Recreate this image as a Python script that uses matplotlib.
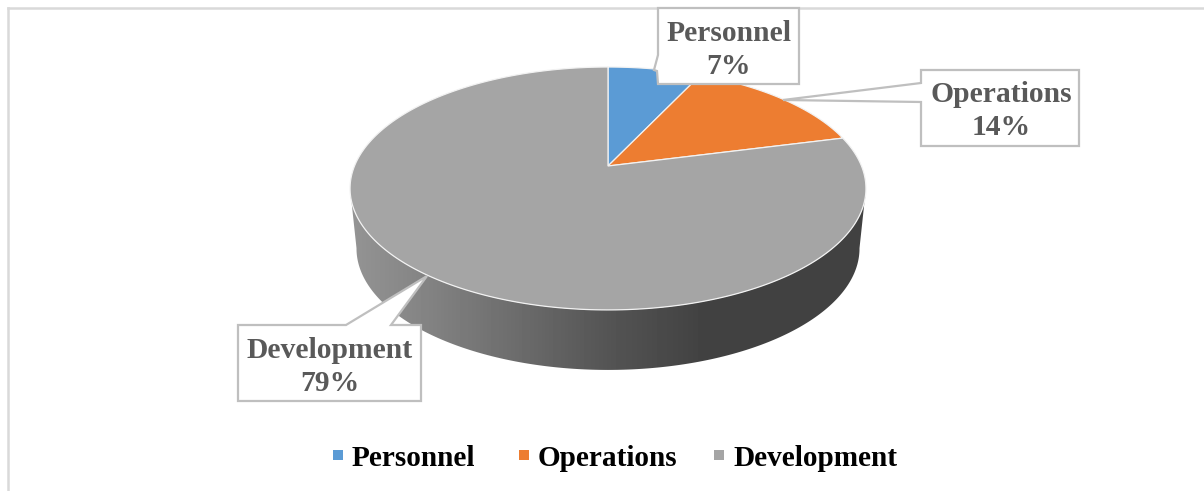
"""3D-look pie chart of budget shares, drawn in pixel coordinates."""

import numpy as np
import matplotlib
matplotlib.use("Agg")
import matplotlib.pyplot as plt
from matplotlib.patches import Polygon, Rectangle

plt.rcParams["font.family"] = ["Liberation Serif", "DejaVu Serif"]

categories = ["Personnel", "Operations", "Development"]
shares = [7, 14, 79]
colors = ["#5B9BD5", "#ED7D31", "#A5A5A5"]

# ── Geometry of the tilted disc (perspective) ─────────────────────────────────
CX, CY = 608, 166
A, B, K = 253.5, 117.3, 0.185
DEPTH = 60


def rim(theta, scale=1.0, dy=0.0):
    # theta in radians, clockwise from 12 o'clock
    x, y = np.sin(theta), np.cos(theta)
    w = 1 + K * y
    return np.column_stack([CX + scale * A * x / w, CY + dy - B * y / w])


fig = plt.figure(figsize=(12.04, 4.91), dpi=100)
ax = fig.add_axes([0, 0, 1, 1])
ax.axis("off")

# chart frame: only left and top edges are visible
ax.plot([7.5, 7.5], [491, 8], color="#D9D9D9", lw=1.8, zorder=1)
ax.plot([7.5, 1204], [8, 8], color="#D9D9D9", lw=1.8, zorder=1)

# ── Side wall with horizontal gradient ────────────────────────────────────────
t = np.linspace(0, 2 * np.pi, 721)
top = rim(t)
low = rim(t, scale=0.975, dy=DEPTH)
right_i, left_i = np.argmax(top[:, 0]), np.argmin(top[:, 0])
low_r, low_l = np.argmax(low[:, 0]), np.argmin(low[:, 0])
wall_patch = Polygon(
    np.vstack([low[low_r:low_l + 1], top[right_i:left_i + 1][::-1]]),
    closed=True, fc="none", ec="none",
)
ax.add_patch(wall_patch)
stops_x = np.array([350, 420, 520, 608, 700, 866])
stops_v = np.array([0.58, 0.52, 0.42, 0.33, 0.26, 0.26])
grad = np.interp(np.arange(350, 867), stops_x, stops_v)[None, :]
im = ax.imshow(grad, cmap="gray", vmin=0, vmax=1, extent=[350, 867, 380, 180],
               aspect="auto", zorder=2)
im.set_clip_path(wall_patch)
ax.set_xlim(0, 1204)
ax.set_ylim(491, 0)

# ── Top face ──────────────────────────────────────────────────────────────────
edges = np.cumsum([0] + shares) / sum(shares) * 2 * np.pi
for start, stop, color in zip(edges[:-1], edges[1:], colors):
    arc = rim(np.linspace(start, stop, 300))
    ax.add_patch(Polygon(np.vstack([[CX, CY], arc]), closed=True, fc=color,
                         ec="#F2F2F2", lw=0.9, zorder=3))

# ── Callout labels ────────────────────────────────────────────────────────────
callouts = [
    [(658, 8), (799, 8), (799, 84), (658, 84), (657, 71), (654, 70), (658, 55)],
    [(921, 70), (1079, 70), (1079, 146), (921, 146), (921, 102), (783, 100), (921, 83)],
    [(238, 325), (346, 325), (427, 276), (391, 325), (421, 325), (421, 401), (238, 401)],
]
label_xy = [(729, 50), (1001, 111), (330, 367)]
for poly, (lx, ly), name, share in zip(callouts, label_xy, categories, shares):
    ax.add_patch(Polygon(poly, closed=True, fc="white", ec="#BFBFBF", lw=1.6,
                         joinstyle="miter", zorder=4))
    ax.text(lx, ly, f"{name}\n{share}%", ha="center", va="center", fontsize=21.3,
            linespacing=1.32, fontweight="bold", color="#595959", zorder=5)

# ── Legend ────────────────────────────────────────────────────────────────────
legend_x = [333, 519, 714]
for lx, name, color in zip(legend_x, categories, colors):
    ax.add_patch(Rectangle((lx, 450), 10, 10, fc=color, ec="none", zorder=5))
    ax.text(lx + 19, 455, name, ha="left", va="center_baseline", fontsize=21.1,
            fontweight="bold", color="black", zorder=5)

fig.savefig("out.png", dpi=100)
